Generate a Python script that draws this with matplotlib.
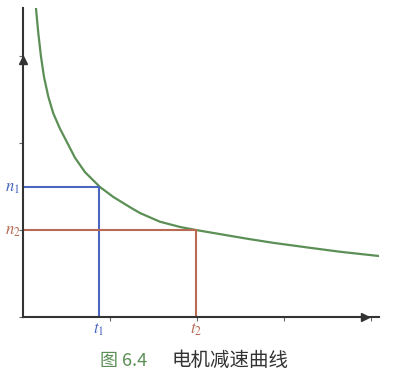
import matplotlib.pyplot as plt

plt.rcParams['font.family'] = ['Noto Sans CJK SC', 'DejaVu Sans']
plt.rcParams['mathtext.fontset'] = 'stix'

# speed curve (time, speed)
t = [0.149, 0.176, 0.207, 0.241, 0.291, 0.348, 0.425, 0.502, 0.598, 0.713,
     0.885, 1.038, 1.230, 1.345, 1.575, 1.805, 1.989, 2.264, 2.575, 2.874,
     3.264, 3.644, 4.092]
n = [3.548, 3.261, 2.992, 2.762, 2.532, 2.341, 2.165, 2.016, 1.830, 1.665,
     1.494, 1.380, 1.262, 1.195, 1.095, 1.035, 1.000, 0.953, 0.900, 0.853,
     0.800, 0.750, 0.701]

t1, n1 = 0.874, 1.494
t2, n2 = 1.989, 1.000
xticks = [1, 2, 3, 4]
yticks = [0, 1, 2, 3]

caption_num = '图 6.4'
caption_txt = '电机减速曲线'

green = '#5b8f55'
blue = '#4a66c0'
brown = '#b86a52'
axis_c = '#333333'

fig = plt.figure(figsize=(3.95, 3.79), dpi=100)
ax = fig.add_axes([23 / 395, 62 / 379, 356 / 395, 309 / 379])
ax.set_xlim(0, 4.092)
ax.set_ylim(0, 3.552)

ax.plot(t, n, color=green, lw=1.6, solid_joinstyle='round', solid_capstyle='round')
ax.plot([0, t1, t1], [n1, n1, 0], color=blue, lw=1.5)
ax.plot([0, t2, t2], [n2, n2, 0], color=brown, lw=1.5)

for s in ['top', 'right']:
    ax.spines[s].set_visible(False)
for s in ['left', 'bottom']:
    ax.spines[s].set_color(axis_c)
    ax.spines[s].set_linewidth(1.5)
    ax.spines[s].set_zorder(3)

# arrow heads sitting on the axes
ax.plot([0], [2.95], marker='^', color=axis_c, ms=6, clip_on=False, zorder=4)
ax.plot([3.93], [0], marker='>', color=axis_c, ms=6, clip_on=False, zorder=4)

ax.set_xticks(xticks)
ax.set_xticklabels([])
ax.set_yticks(yticks)
ax.set_yticklabels([])
ax.tick_params(axis='both', direction='out', length=3, width=0.8, color='#666666')

ax.text(-0.12, n1, r'$n_1$', color=blue, fontsize=12, ha='center', va='center')
ax.text(-0.12, n2, r'$n_2$', color=brown, fontsize=12, ha='center', va='center')
ax.text(t1, -0.05, r'$t_1$', color=blue, fontsize=12, ha='center', va='top')
ax.text(t2, -0.05, r'$t_2$', color=brown, fontsize=12, ha='center', va='top')

fig.text(100 / 395, 0.048, caption_num, color=green, fontsize=13, ha='left', va='center')
fig.text(172 / 395, 0.048, caption_txt, color='#333333', fontsize=14, ha='left', va='center')

fig.savefig('out.png', dpi=100)
